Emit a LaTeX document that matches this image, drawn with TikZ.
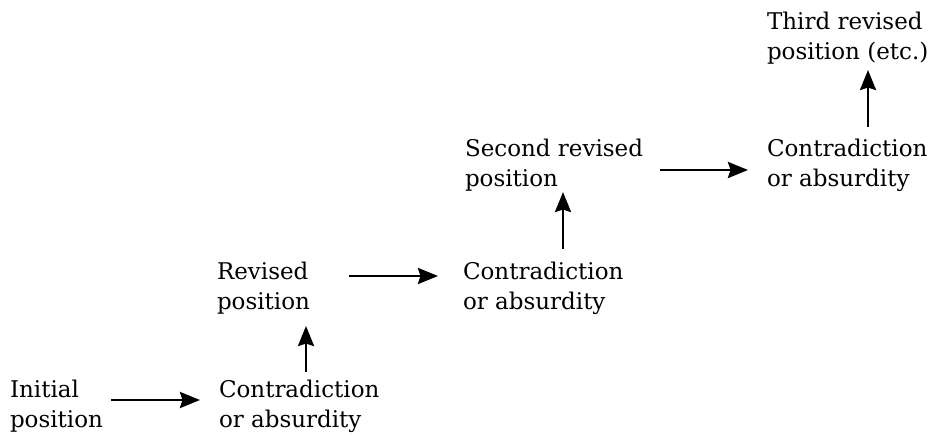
\documentclass[tikz,border=0pt]{standalone}
\usepackage{fontspec}
\setmainfont{DejaVu Serif}
\usetikzlibrary{arrows.meta}
\tikzset{
  lbl/.style={anchor=base west, inner sep=0pt, outer sep=0pt, align=left,
    font=\fontsize{23}{30}\selectfont},
  arr/.style={line width=2.6pt, -{Stealth[length=20pt,width=16pt,inset=2.5pt]}}
}
\begin{document}
\begin{tikzpicture}
\useasboundingbox (0pt,0pt) rectangle (941pt,-435pt);
\node[lbl] (A) at (10pt,-427pt) {Initial\\position};
\node[lbl] (B) at (219pt,-427pt) {Contradiction\\or absurdity};
\node[lbl] (C) at (217pt,-309pt) {Revised\\position};
\node[lbl] (D) at (463pt,-309pt) {Contradiction\\or absurdity};
\node[lbl] (E) at (465pt,-187pt) {Second revised\\position};
\node[lbl] (F) at (767pt,-187pt) {Contradiction\\or absurdity};
\node[lbl] (G) at (767pt,-60pt) {Third revised\\position (etc.)};
\draw[arr] ([shift={(101pt,27pt)}]A.base west) -- ([shift={(-19pt,27pt)}]B.base west);
\draw[arr] ([shift={(87pt,55pt)}]B.base west) -- ([shift={(89pt,-17pt)}]C.base west);
\draw[arr] ([shift={(132pt,33pt)}]C.base west) -- ([shift={(-25pt,33pt)}]D.base west);
\draw[arr] ([shift={(100pt,60pt)}]D.base west) -- ([shift={(98pt,-5pt)}]E.base west);
\draw[arr] ([shift={(195pt,17pt)}]E.base west) -- ([shift={(-19pt,17pt)}]F.base west);
\draw[arr] ([shift={(101pt,60pt)}]F.base west) -- ([shift={(101pt,-10pt)}]G.base west);
\end{tikzpicture}
\end{document}
